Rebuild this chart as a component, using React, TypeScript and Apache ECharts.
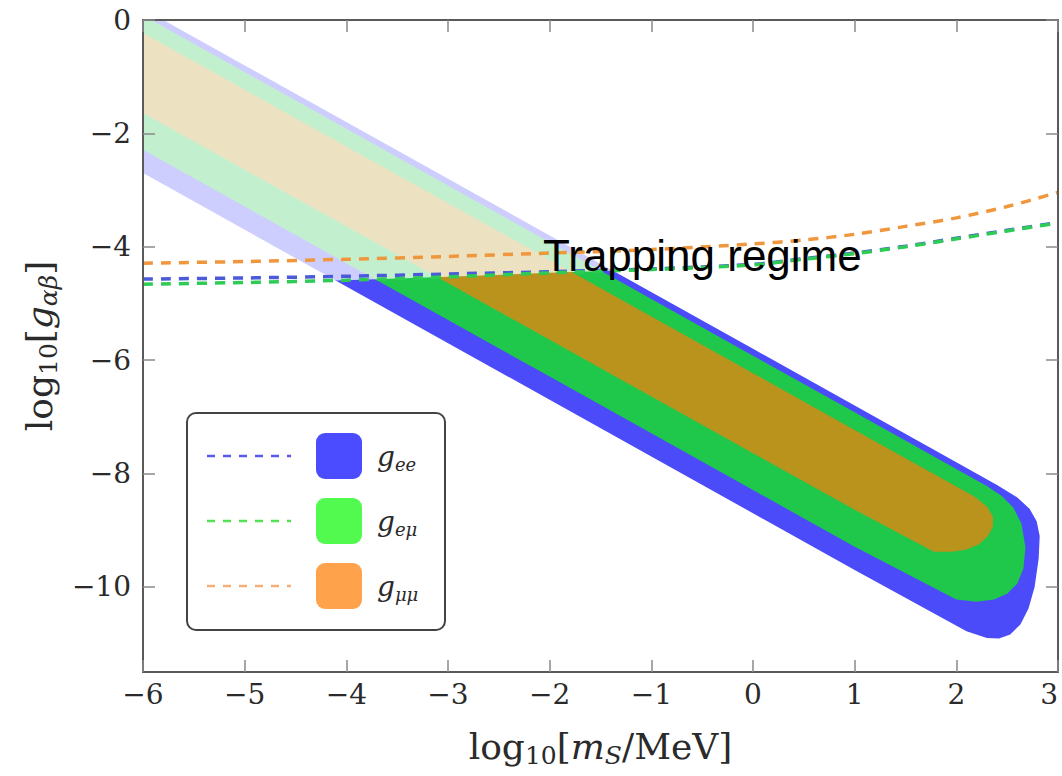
import React, { useEffect, useRef } from 'react';
import * as echarts from 'echarts';

// Axis ticks
const xTicks = [-6, -5, -4, -3, -2, -1, 0, 1, 2, 3];
const yTicks = [0, -2, -4, -6, -8, -10];

// Couplings (legend order)
const couplingSubs = ['ee', 'eμ', 'μμ'];
const couplingNames = ['g_ee', 'g_eμ', 'g_μμ'];

// Allowed regions, outline as [log10(mS/MeV), log10(g)]
const bandEE = [
  [-6.3, 0.5], [-4, -1.8], [-2, -3.8], [0, -5.8], [1, -6.8], [2, -7.8], [2.4, -8.2],
  [2.6, -8.42], [2.72, -8.62], [2.79, -8.84], [2.82, -9.1], [2.81, -9.5], [2.77, -10.0],
  [2.71, -10.38], [2.63, -10.66], [2.53, -10.84], [2.42, -10.91], [2.3, -10.9],
  [2.1, -10.78], [1, -9.7], [0, -8.7], [-2, -6.7], [-4, -4.7], [-6.3, -2.4],
];
const bandEMu = [
  [-6.3, 0.38], [-4, -1.92], [-2, -3.92], [0, -5.92], [1, -6.92], [2, -7.92], [2.3, -8.22],
  [2.45, -8.4], [2.56, -8.6], [2.64, -8.88], [2.68, -9.3], [2.66, -9.68], [2.6, -9.94],
  [2.5, -10.12], [2.37, -10.22], [2.2, -10.26], [2.0, -10.22], [1, -9.29], [0, -8.29],
  [-2, -6.29], [-4, -4.29], [-6.3, -1.99],
];
const bandMuMu = [
  [-6.3, 0.07], [-4, -2.23], [-2, -4.23], [0, -6.23], [1, -7.23], [2, -8.23], [2.18, -8.41],
  [2.3, -8.58], [2.36, -8.76], [2.36, -8.94], [2.31, -9.1], [2.22, -9.25], [2.1, -9.34],
  [1.95, -9.38], [1.78, -9.38], [1, -8.64], [0, -7.64], [-2, -5.64], [-4, -3.64], [-6.3, -1.34],
];

// Trapping thresholds (dashed curves)
const trapEE = [
  [-6, -4.57], [-5, -4.55], [-4, -4.52], [-3, -4.48], [-2, -4.44], [-1, -4.39], [0, -4.31],
  [0.5, -4.21], [1, -4.11], [1.5, -3.99], [2, -3.85], [2.5, -3.71], [3, -3.57],
];
const trapEMu = [
  [-6, -4.66], [-5, -4.63], [-4, -4.59], [-3, -4.53], [-2, -4.46], [-1, -4.4], [0, -4.32],
  [0.5, -4.22], [1, -4.12], [1.5, -4.0], [2, -3.86], [2.5, -3.72], [3, -3.58],
];
const trapMuMu = [
  [-6, -4.29], [-5, -4.26], [-4, -4.22], [-3, -4.17], [-2, -4.11], [-1, -4.05], [0, -3.95],
  [0.5, -3.88], [1, -3.78], [1.5, -3.64], [2, -3.49], [2.5, -3.29], [3, -3.04],
];

const bands = [bandEE, bandEMu, bandMuMu];
const traps = [trapEE, trapEMu, trapMuMu];

const bandColors = ['#4b4bf9', '#1fc84b', '#b9931c'];
const swatchColors = ['#4b4bff', '#52fa4f', '#ffa24c'];
const lineColors = ['#4a5ad8', '#2ecb55', '#f0963c'];
const legendLineColors = ['#5a5ae6', '#55e055', '#f5b07a'];

const SERIF = '"DejaVu Serif", serif';
const fmt = (v: number) => (v < 0 ? '\u2212' + Math.abs(v) : String(v));

function polygonSeries(name: string, pts: number[][], fill: string, z: number) {
  return {
    type: 'custom',
    name,
    coordinateSystem: 'cartesian2d',
    silent: true,
    clip: true,
    z,
    data: [pts[0]],
    renderItem: (_params: any, api: any) => ({
      type: 'polygon',
      shape: { points: pts.map((p) => api.coord(p)) },
      style: { fill },
    }),
  };
}

function buildOption() {
  const series: any[] = [];
  bands.forEach((b, i) => series.push(polygonSeries(couplingNames[i], b, bandColors[i], 2 + i)));

  // Above the threshold the regions are shown washed out (trapping regime)
  const trapRegion = [...trapEMu, [3.2, -3.58], [3.2, 1], [-6.2, 1], [-6.2, -4.66]];
  series.push(polygonSeries('trapping', trapRegion, 'rgba(255,255,255,0.73)', 5));

  [2, 0, 1].forEach((i) => {
    series.push({
      type: 'line',
      name: couplingNames[i] + ' threshold',
      data: traps[i],
      smooth: 0.3,
      showSymbol: false,
      silent: true,
      z: 6 + i,
      lineStyle: { color: lineColors[i], width: 3.5, type: [10, 8] },
    });
  });

  const sub = (size: number, italic: boolean) => ({
    fontFamily: SERIF,
    fontSize: size,
    fontStyle: italic ? 'italic' : 'normal',
    color: '#2a2a2a',
    lineHeight: 20,
    verticalAlign: 'bottom',
  });
  const main = (size: number, italic: boolean) => ({
    fontFamily: SERIF,
    fontSize: size,
    fontStyle: italic ? 'italic' : 'normal',
    color: '#2a2a2a',
    lineHeight: 44,
  });
  const nameRich = { a: main(36, false), b: sub(25, false), c: main(36, true), d: sub(25, true) };

  const axisLine = { show: true, onZero: false, lineStyle: { color: '#5a5a5a', width: 2 } };
  const axisTickInside = (vals: number[]) => ({
    show: true,
    inside: true,
    length: 12,
    customValues: vals,
    lineStyle: { color: '#8a8a8a', width: 1.5 },
  });

  const graphic: any[] = [
    {
      type: 'rect',
      shape: { x: 187, y: 413, width: 258, height: 217, r: 9 },
      style: { fill: '#ffffff', stroke: '#444444', lineWidth: 2 },
      z: 100,
    },
  ];
  const rowY = [456, 521, 586];
  couplingSubs.forEach((s, i) => {
    graphic.push({
      type: 'line',
      shape: { x1: 207, y1: rowY[i], x2: 291, y2: rowY[i] },
      style: { stroke: legendLineColors[i], lineWidth: 2.5, lineDash: [8, 8] },
      z: 101,
    });
    graphic.push({
      type: 'rect',
      shape: { x: 316, y: rowY[i] - 23, width: 46, height: 46, r: 9 },
      style: { fill: swatchColors[i] },
      z: 101,
    });
    graphic.push({
      type: 'text',
      x: 377,
      y: rowY[i],
      z: 101,
      style: {
        text: '{g|g}{s|' + s + '}',
        verticalAlign: 'middle',
        align: 'left',
        rich: {
          g: { fontFamily: SERIF, fontStyle: 'italic', fontSize: 28, lineHeight: 34, fill: '#2a2a2a' },
          s: { fontFamily: SERIF, fontStyle: 'italic', fontSize: 18, lineHeight: 22, verticalAlign: 'bottom', fill: '#2a2a2a' },
        },
      },
    });
  });
  graphic.push({
    type: 'text',
    x: 543,
    y: 255,
    z: 110,
    style: {
      text: 'Trapping regime',
      fontFamily: '"Liberation Sans", Arial, sans-serif',
      fontSize: 44,
      fill: '#000000',
      verticalAlign: 'middle',
      align: 'left',
    },
  });

  return {
    animation: false,
    backgroundColor: '#ffffff',
    grid: { left: 143, right: 4, top: 20, bottom: 104, outerBoundsMode: 'none', containLabel: false },
    xAxis: [
      {
        type: 'value',
        min: -6,
        max: 3,
        interval: 1,
        z: 10,
        axisLine,
        axisTick: axisTickInside(xTicks),
        splitLine: { show: false },
        axisLabel: {
          customValues: xTicks,
          formatter: fmt,
          fontFamily: SERIF,
          fontSize: 28,
          color: '#2a2a2a',
          margin: 8,
          alignMaxLabel: 'right',
        },
        name: '{a|log}{b|10}{a|[}{c|m}{d|S}{a|/MeV]}',
        nameLocation: 'middle',
        nameGap: 52,
        nameTextStyle: { rich: nameRich },
      },
      {
        type: 'value',
        position: 'top',
        min: -6,
        max: 3,
        interval: 1,
        z: 10,
        axisLine,
        axisTick: axisTickInside(xTicks),
        axisLabel: { show: false },
        splitLine: { show: false },
      },
    ],
    yAxis: [
      {
        type: 'value',
        min: -11.5,
        max: 0,
        z: 10,
        axisLine,
        axisTick: axisTickInside(yTicks),
        splitLine: { show: false },
        axisLabel: {
          customValues: yTicks,
          formatter: fmt,
          fontFamily: SERIF,
          fontSize: 28,
          color: '#2a2a2a',
          margin: 12,
        },
        name: '{a|log}{b|10}{a|[}{c|g}{d|αβ}{a|]}',
        nameLocation: 'middle',
        nameRotate: 90,
        nameGap: 82,
        nameTextStyle: { rich: nameRich },
      },
      {
        type: 'value',
        position: 'right',
        min: -11.5,
        max: 0,
        z: 10,
        axisLine,
        axisTick: axisTickInside(yTicks),
        axisLabel: { show: false },
        splitLine: { show: false },
      },
    ],
    series,
    graphic,
  };
}

export default function App() {
  const ref = useRef<HTMLDivElement>(null);
  useEffect(() => {
    const chart = echarts.init(ref.current!, null, { renderer: 'svg' });
    chart.setOption(buildOption() as any);
    return () => chart.dispose();
  }, []);
  return (
    <div
      ref={ref}
      style={{ position: 'fixed', left: 0, top: 0, width: 1062, height: 776, background: '#ffffff' }}
    />
  );
}
